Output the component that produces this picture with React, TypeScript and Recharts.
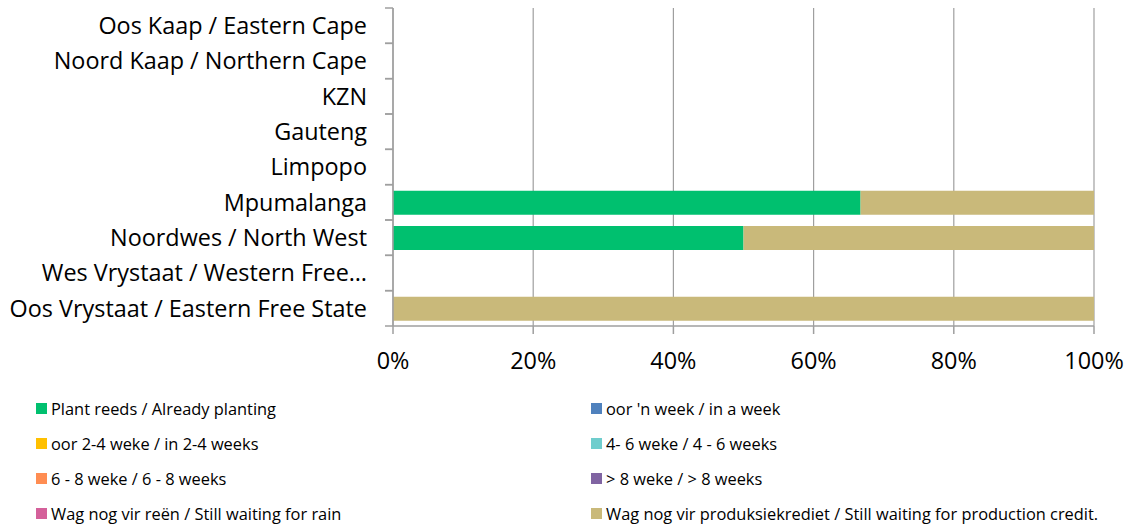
import { BarChart, Bar, XAxis, YAxis, CartesianGrid } from 'recharts';

const regions = [
  'Oos Kaap / Eastern Cape',
  'Noord Kaap / Northern Cape',
  'KZN',
  'Gauteng',
  'Limpopo',
  'Mpumalanga',
  'Noordwes / North West',
  'Wes Vrystaat / Western Free…',
  'Oos Vrystaat / Eastern Free State',
];

// share of respondents (%) per region, one array per answer
const alreadyPlanting = [0, 0, 0, 0, 0, 66.7, 50, 0, 0];
const inAWeek = [0, 0, 0, 0, 0, 0, 0, 0, 0];
const in2to4Weeks = [0, 0, 0, 0, 0, 0, 0, 0, 0];
const in4to6Weeks = [0, 0, 0, 0, 0, 0, 0, 0, 0];
const in6to8Weeks = [0, 0, 0, 0, 0, 0, 0, 0, 0];
const over8Weeks = [0, 0, 0, 0, 0, 0, 0, 0, 0];
const waitingRain = [0, 0, 0, 0, 0, 0, 0, 0, 0];
const waitingCredit = [0, 0, 0, 0, 0, 33.3, 50, 0, 100];

const seriesNames = [
  'Plant reeds / Already planting',
  "oor 'n week / in a week",
  'oor 2-4 weke / in 2-4 weeks',
  '4- 6 weke / 4 - 6 weeks',
  '6 - 8 weke / 6 - 8 weeks',
  '> 8 weke / > 8 weeks',
  'Wag nog vir reën / Still waiting for rain',
  'Wag nog vir produksiekrediet / Still waiting for production credit.',
];
const seriesValues = [
  alreadyPlanting,
  inAWeek,
  in2to4Weeks,
  in4to6Weeks,
  in6to8Weeks,
  over8Weeks,
  waitingRain,
  waitingCredit,
];
const seriesColors = ['#00c06f', '#4f81bd', '#ffc000', '#6fcdcd', '#ff8d52', '#8064a2', '#d4609a', '#c9b97a'];
const xTicks = [0, 20, 40, 60, 80, 100];

const FONT = "'Open Sans', Lato, sans-serif";
const AXIS_GRAY = '#9f9f9f';
const CHART_H = 380;
const MARGIN_TOP = 8;
const X_AXIS_H = 54;
const HALF_BAND = (CHART_H - MARGIN_TOP - X_AXIS_H) / regions.length / 2;

const chartData = regions.map((region, i) => {
  const row: Record<string, string | number> = { region };
  seriesValues.forEach((values, s) => {
    row[`s${s}`] = values[i];
  });
  return row;
});

// category label plus Excel-style tick marks on the band boundaries
function RegionTick(props: any) {
  const { x, y, payload } = props;
  const ax = Number(x);
  const ay = Number(y);
  return (
    <g>
      <line x1={ax - 8} x2={ax} y1={ay - HALF_BAND} y2={ay - HALF_BAND} stroke={AXIS_GRAY} strokeWidth={1.5} />
      <line x1={ax - 8} x2={ax} y1={ay + HALF_BAND} y2={ay + HALF_BAND} stroke={AXIS_GRAY} strokeWidth={1.5} />
      <text x={ax - 26} y={ay} dy="0.35em" textAnchor="end" fontSize={23.4} fill="#000" fontFamily={FONT}>
        {payload.value}
      </text>
    </g>
  );
}

export default function App() {
  return (
    <div style={{ position: 'absolute', left: 0, top: 0, width: 1132, height: 529, background: '#fff' }}>
      <BarChart
        width={1132}
        height={CHART_H}
        data={chartData}
        layout="vertical"
        margin={{ top: MARGIN_TOP, right: 38, left: 0, bottom: 0 }}
        barSize={24}
      >
        <CartesianGrid horizontal={false} stroke={AXIS_GRAY} strokeWidth={1.2} />
        <XAxis
          type="number"
          domain={[0, 100]}
          ticks={xTicks}
          tickFormatter={(v) => `${v}%`}
          height={X_AXIS_H}
          tickSize={8}
          tickMargin={18}
          stroke={AXIS_GRAY}
          strokeWidth={1.5}
          tick={{ fontSize: 23.4, fill: '#000', fontFamily: FONT, strokeWidth: 0 }}
        />
        <YAxis
          type="category"
          dataKey="region"
          width={393}
          tickSize={0}
          tickMargin={0}
          stroke={AXIS_GRAY}
          strokeWidth={1.5}
          interval={0}
          tick={<RegionTick />}
        />
        {seriesNames.map((name, s) => (
          <Bar key={name} dataKey={`s${s}`} name={name} stackId="a" fill={seriesColors[s]} isAnimationActive={false} />
        ))}
      </BarChart>
      <div
        style={{
          position: 'absolute',
          left: 36,
          top: 398,
          display: 'grid',
          gridTemplateColumns: '555px 540px',
          rowGap: 15,
          fontFamily: FONT,
          fontSize: 16.4,
          color: '#000',
        }}
      >
        {seriesNames.map((name, s) => (
          <div key={name} style={{ display: 'flex', alignItems: 'center', height: 20, whiteSpace: 'nowrap' }}>
            <span style={{ width: 11, height: 11, background: seriesColors[s], marginRight: 4, flexShrink: 0 }} />
            {name}
          </div>
        ))}
      </div>
    </div>
  );
}
